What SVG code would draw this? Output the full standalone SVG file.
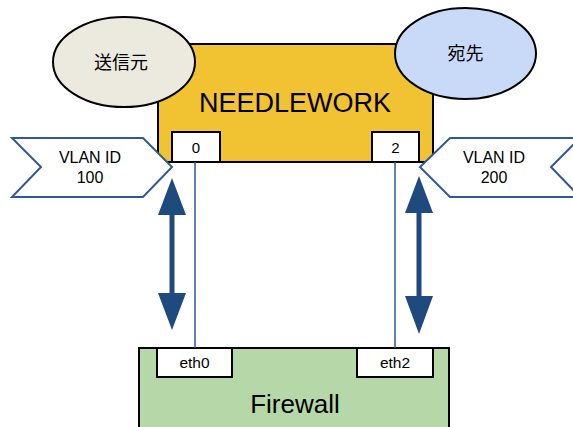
<svg xmlns="http://www.w3.org/2000/svg" width="573" height="427" viewBox="0 0 573 427">
<defs>
<style>
.box{stroke:#000;stroke-width:2}
.port{fill:#fff;stroke:#000;stroke-width:2}
.t{font-family:"Liberation Sans",Arial,sans-serif;fill:#000;text-anchor:middle}
.cjk{font-family:"Liberation Sans","Noto Sans CJK JP",sans-serif;fill:#000;text-anchor:middle}
.tag{fill:#fff;stroke:#2f5a91;stroke-width:2}
.wire{stroke:#2f5a91;stroke-width:1.5;fill:none}
.dbl{fill:#1f4a7e}
</style>
</defs>
<rect width="573" height="427" fill="#fff"/>
<g id="needlework">
<rect class="box" x="158" y="44" width="275" height="118" fill="#f1c232"/>
<text class="t" x="295" y="112" font-size="27">NEEDLEWORK</text>
</g>
<g id="port0">
<rect class="port" x="172" y="132" width="48" height="30"/>
<text class="t" x="196" y="153" font-size="15">0</text>
</g>
<g id="port2">
<rect class="port" x="372" y="132" width="47" height="30"/>
<text class="t" x="395.5" y="153" font-size="15">2</text>
</g>
<g id="src">
<ellipse cx="124" cy="62" rx="71" ry="45" fill="#eceadf" stroke="#000" stroke-width="2"/>
<text class="cjk" x="121" y="69" font-size="18">送信元</text>
</g>
<g id="dst">
<ellipse cx="465.5" cy="53.5" rx="70.5" ry="45.5" fill="#c9daf8" stroke="#000" stroke-width="2"/>
<text class="cjk" x="465.5" y="60" font-size="18">宛先</text>
</g>
<g id="firewall">
<rect class="box" x="139" y="348" width="310" height="90" fill="#b6d7a8"/>
<text class="t" x="295" y="413" font-size="26">Firewall</text>
</g>
<g id="eth0">
<rect class="port" x="157" y="348" width="75" height="29"/>
<text class="t" x="194.5" y="368" font-size="15.5">eth0</text>
</g>
<g id="eth2">
<rect class="port" x="357" y="348" width="76" height="29"/>
<text class="t" x="395" y="368" font-size="15.5">eth2</text>
</g>
<g id="vlan100">
<polygon class="tag" points="12,138 143,138 172,167 143,197 12,197 41,167"/>
<text class="t" x="90" y="163" font-size="16">VLAN ID</text>
<text class="t" x="90" y="183" font-size="16">100</text>
</g>
<g id="vlan200">
<polygon class="tag" points="450,138 580,138 551,167 580,197 450,197 420,167"/>
<text class="t" x="494" y="163" font-size="16">VLAN ID</text>
<text class="t" x="494" y="183" font-size="16">200</text>
</g>
<g id="connectors">
<line class="wire" x1="195" y1="162" x2="195" y2="348"/>
<line class="wire" x1="395" y1="162" x2="395" y2="348"/>
<polygon class="dbl" points="172,178 186,215 174.5,215 174.5,293 186,293 172,330 158,293 169.5,293 169.5,215 158,215"/>
<polygon class="dbl" points="419,176 433,213 421.5,213 421.5,296 433,296 419,334 405,296 416.5,296 416.5,213 405,213"/>
</g>
</svg>
